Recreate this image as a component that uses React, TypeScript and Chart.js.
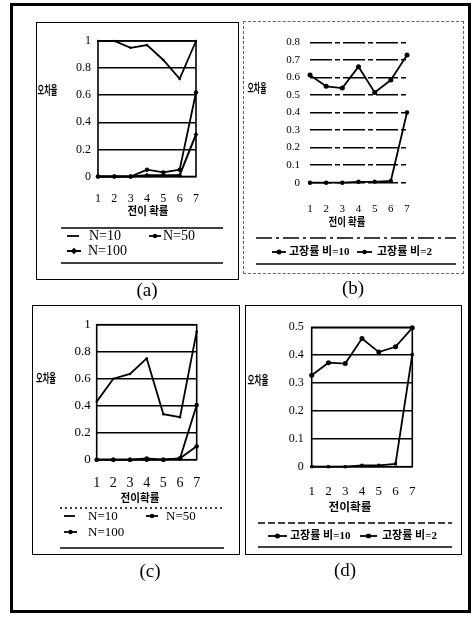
import React, { useEffect, useRef } from "react";
import { Chart, registerables } from "chart.js";
Chart.register(...registerables);

// ---------------- data ----------------
const transitionSteps = ["1", "2", "3", "4", "5", "6", "7"];
const yTicksUnit = [0, 0.2, 0.4, 0.6, 0.8, 1];
const yTicksB = [0, 0.1, 0.2, 0.3, 0.4, 0.5, 0.6, 0.7, 0.8];
const yTicksD = [0, 0.1, 0.2, 0.3, 0.4, 0.5];

const sizeLabels = ["N=10", "N=50", "N=100"];
const ratioLabels = ["고장률 비=10", "고장률 비=2"];
const yTitleText = "오차율";
const xTitleText = "전이 확률";
const xTitleTight = "전이확률";
const panelTags = ["(a)", "(b)", "(c)", "(d)"];

const aN10 = [1.0, 1.0, 0.95, 0.97, 0.86, 0.72, 1.0];
const aN50 = [0, 0, 0, 0.05, 0.03, 0.05, 0.62];
const aN100 = [0, 0, 0, 0.01, 0.01, 0.01, 0.31];

const bRatio10 = [0.613, 0.549, 0.539, 0.661, 0.514, 0.585, 0.728];
const bRatio2 = [0, 0, 0, 0.005, 0.005, 0.01, 0.4];

const cN10 = [0.43, 0.6, 0.635, 0.75, 0.337, 0.315, 0.95];
const cN50 = [0, 0, 0, 0, 0, 0.01, 0.405];
const cN100 = [0, 0, 0, 0.01, 0, 0.01, 0.1];

const dRatio10 = [0.328, 0.373, 0.37, 0.46, 0.411, 0.43, 0.498];
const dRatio2 = [0, 0, 0, 0.005, 0.005, 0.01, 0.403];

// ---------------- styles / layout ----------------
const SERIF = "'Liberation Serif', 'Times New Roman', 'Noto Sans CJK KR', serif";
const KR = "'Noto Sans CJK KR', sans-serif";

type Series = { label: string; data: number[]; width: number; radius: number; style: string };
type LegendItem = { mx: number; ml: number; tx: number; y: number };
type Spec = {
  box: { x: number; y: number; w: number; h: number };
  area: { l: number; r: number; t: number; b: number };
  yMax: number;
  yTicks: number[];
  yTickSize: number;
  yTickPad: number;
  xTickSize: number;
  xTickPad: number;
  yTitle: { cx: number; cy: number; w: number; size: number };
  xTitle: { text: string; cx: number; cy: number; w: number; size: number };
  legend: {
    top: number; bottom: number; x1: number; x2: number;
    topDash: number[]; bottomDash: number[];
    size: number; bold: boolean; items: LegendItem[];
  };
  frame: boolean;
  gridDash: number[];
  gridWidth: number;
  tag: { text: string; x: number; y: number };
  border: string;
  series: Series[];
};

const specA: Spec = {
  box: { x: 36, y: 22, w: 203, h: 258 },
  area: { l: 98, r: 196, t: 41, b: 176.5 },
  yMax: 1, yTicks: yTicksUnit, yTickSize: 12, yTickPad: 7,
  xTickSize: 12, xTickPad: 15,
  yTitle: { cx: 47.5, cy: 90, w: 20, size: 12 },
  xTitle: { text: xTitleText, cx: 148, cy: 211, w: 41, size: 11 },
  legend: {
    top: 228, bottom: 263, x1: 61, x2: 223, topDash: [], bottomDash: [],
    size: 14, bold: false,
    items: [
      { mx: 67, ml: 12, tx: 89, y: 236 },
      { mx: 149, ml: 12, tx: 163, y: 236 },
      { mx: 67, ml: 14, tx: 88, y: 251 },
    ],
  },
  frame: true, gridDash: [], gridWidth: 1.5,
  tag: { text: panelTags[0], x: 147, y: 290 },
  border: "1.5px solid #000",
  series: [
    { label: sizeLabels[0], data: aN10, width: 1.8, radius: 1.2, style: "circle" },
    { label: sizeLabels[1], data: aN50, width: 1.8, radius: 2.2, style: "circle" },
    { label: sizeLabels[2], data: aN100, width: 2, radius: 2.5, style: "rectRot" },
  ],
};

const specB: Spec = {
  box: { x: 243, y: 21, w: 221, h: 253 },
  area: { l: 310, r: 407, t: 42.3, b: 182.7 },
  yMax: 0.8, yTicks: yTicksB, yTickSize: 11, yTickPad: 10,
  xTickSize: 11, xTickPad: 19.5,
  yTitle: { cx: 257, cy: 88, w: 19, size: 12 },
  xTitle: { text: xTitleText, cx: 347, cy: 222, w: 37, size: 11 },
  legend: {
    top: 238, bottom: 264, x1: 256, x2: 456, topDash: [16, 4, 3, 4], bottomDash: [],
    size: 11, bold: true,
    items: [
      { mx: 272, ml: 14, tx: 289, y: 252 },
      { mx: 357, ml: 15, tx: 377, y: 252 },
    ],
  },
  frame: false, gridDash: [22, 3, 5, 3], gridWidth: 1.4,
  tag: { text: panelTags[1], x: 353, y: 288 },
  border: "1px dashed #666",
  series: [
    { label: ratioLabels[0], data: bRatio10, width: 1.8, radius: 2.5, style: "circle" },
    { label: ratioLabels[1], data: bRatio2, width: 1.8, radius: 2.2, style: "circle" },
  ],
};

const specC: Spec = {
  box: { x: 32, y: 305, w: 208, h: 250 },
  area: { l: 96.7, r: 196.7, t: 324.7, b: 459.7 },
  yMax: 1, yTicks: yTicksUnit, yTickSize: 13, yTickPad: 6,
  xTickSize: 14, xTickPad: 15.5,
  yTitle: { cx: 46, cy: 378, w: 20, size: 12 },
  xTitle: { text: xTitleTight, cx: 140, cy: 498, w: 39, size: 11 },
  legend: {
    top: 508, bottom: 548, x1: 60, x2: 224, topDash: [2, 3], bottomDash: [],
    size: 13, bold: false,
    items: [
      { mx: 64, ml: 11, tx: 88, y: 516 },
      { mx: 146, ml: 12, tx: 166, y: 516 },
      { mx: 64, ml: 13, tx: 88, y: 532 },
    ],
  },
  frame: true, gridDash: [], gridWidth: 1.5,
  tag: { text: panelTags[2], x: 150, y: 571 },
  border: "1.5px solid #000",
  series: [
    { label: sizeLabels[0], data: cN10, width: 1.8, radius: 1.2, style: "circle" },
    { label: sizeLabels[1], data: cN50, width: 1.8, radius: 2.2, style: "circle" },
    { label: sizeLabels[2], data: cN100, width: 1.8, radius: 2.2, style: "circle" },
  ],
};

const specD: Spec = {
  box: { x: 245, y: 305, w: 217, h: 250 },
  area: { l: 311.7, r: 412.3, t: 327.3, b: 466.7 },
  yMax: 0.5, yTicks: yTicksD, yTickSize: 12, yTickPad: 8,
  xTickSize: 13, xTickPad: 17.5,
  yTitle: { cx: 258, cy: 380, w: 21, size: 12 },
  xTitle: { text: xTitleTight, cx: 350, cy: 507, w: 43, size: 11 },
  legend: {
    top: 523, bottom: 547, x1: 258, x2: 452, topDash: [7, 3], bottomDash: [],
    size: 11, bold: true,
    items: [
      { mx: 268, ml: 19, tx: 290, y: 536 },
      { mx: 360, ml: 17, tx: 382, y: 536 },
    ],
  },
  frame: true, gridDash: [], gridWidth: 1.5,
  tag: { text: panelTags[3], x: 345, y: 570 },
  border: "1.5px solid #000",
  series: [
    { label: ratioLabels[0], data: dRatio10, width: 1.8, radius: 2.5, style: "circle" },
    { label: ratioLabels[1], data: dRatio2, width: 1.8, radius: 2.2, style: "rect" },
  ],
};

const specs = [specA, specB, specC, specD];

// ---------------- drawing helpers ----------------
function drawFitted(ctx: CanvasRenderingContext2D, text: string, cx: number, cy: number, font: string, targetW: number) {
  ctx.save();
  ctx.font = font;
  const w = ctx.measureText(text).width || 1;
  const sx = targetW ? targetW / w : 1;
  ctx.translate(cx, cy);
  ctx.scale(sx, 1);
  ctx.textAlign = "center";
  ctx.textBaseline = "middle";
  ctx.fillStyle = "#000";
  ctx.fillText(text, 0, 0);
  ctx.restore();
}

function drawMarker(ctx: CanvasRenderingContext2D, style: string, x: number, y: number, r: number) {
  if (r <= 0) return;
  ctx.beginPath();
  if (style === "rect") {
    ctx.rect(x - r, y - r, 2 * r, 2 * r);
  } else if (style === "rectRot") {
    ctx.moveTo(x, y - r * 1.3);
    ctx.lineTo(x + r * 1.3, y);
    ctx.lineTo(x, y + r * 1.3);
    ctx.lineTo(x - r * 1.3, y);
    ctx.closePath();
  } else {
    ctx.arc(x, y, r, 0, Math.PI * 2);
  }
  ctx.fill();
}

function hLine(ctx: CanvasRenderingContext2D, x1: number, x2: number, y: number, dash: number[], w: number) {
  ctx.save();
  ctx.strokeStyle = "#000";
  ctx.lineWidth = w;
  ctx.setLineDash(dash);
  ctx.beginPath();
  ctx.moveTo(x1, y);
  ctx.lineTo(x2, y);
  ctx.stroke();
  ctx.restore();
}

function decorPlugin(spec: Spec) {
  return {
    id: "decor",
    afterDraw(chart: any) {
      const ctx: CanvasRenderingContext2D = chart.ctx;
      const ox = spec.box.x;
      const oy = spec.box.y;
      const ca = chart.chartArea;
      ctx.save();
      if (spec.frame) {
        ctx.strokeStyle = "#000";
        ctx.lineWidth = 1.6;
        ctx.strokeRect(ca.left, ca.top, ca.right - ca.left, ca.bottom - ca.top);
      }
      // axis titles
      drawFitted(ctx, yTitleText, spec.yTitle.cx - ox, spec.yTitle.cy - oy, `bold ${spec.yTitle.size}px ${KR}`, spec.yTitle.w);
      drawFitted(ctx, spec.xTitle.text, spec.xTitle.cx - ox, spec.xTitle.cy - oy, `bold ${spec.xTitle.size}px ${KR}`, spec.xTitle.w);
      // legend
      const lg = spec.legend;
      hLine(ctx, lg.x1 - ox, lg.x2 - ox, lg.top - oy, lg.topDash, 1.4);
      hLine(ctx, lg.x1 - ox, lg.x2 - ox, lg.bottom - oy, lg.bottomDash, 1.4);
      chart.data.datasets.forEach((ds: any, i: number) => {
        const it = lg.items[i];
        if (!it) return;
        const y = it.y - oy;
        const x = it.mx - ox;
        ctx.strokeStyle = "#000";
        ctx.fillStyle = "#000";
        ctx.lineWidth = ds.borderWidth;
        ctx.setLineDash([]);
        ctx.beginPath();
        ctx.moveTo(x, y);
        ctx.lineTo(x + it.ml, y);
        ctx.stroke();
        if (ds.pointRadius > 1.5) drawMarker(ctx, ds.pointStyle, x + it.ml / 2, y, ds.pointRadius);
        ctx.font = `${lg.bold ? "bold " : ""}${lg.size}px ${SERIF}`;
        ctx.textAlign = "left";
        ctx.textBaseline = "middle";
        ctx.fillText(ds.label, it.tx - ox, y + 0.5);
      });
      ctx.restore();
    },
  };
}

function makeConfig(spec: Spec): any {
  const { box, area } = spec;
  const yWidth = area.l - box.x;
  const xH = spec.xTickPad + spec.xTickSize * 1.2 + 2;
  const padding = {
    left: 0,
    top: area.t - box.y,
    right: box.x + box.w - area.r,
    bottom: box.y + box.h - area.b - xH,
  };
  return {
    type: "line",
    data: {
      labels: transitionSteps,
      datasets: spec.series.map((s) => ({
        label: s.label,
        data: s.data,
        borderColor: "#000",
        backgroundColor: "#000",
        borderWidth: s.width,
        pointRadius: s.radius,
        pointStyle: s.style,
        pointBorderWidth: 0,
        pointBackgroundColor: "#000",
        tension: 0,
        fill: false,
        clip: false,
      })),
    },
    options: {
      responsive: false,
      animation: false,
      events: [],
      layout: { padding },
      plugins: {
        legend: { display: false },
        tooltip: { enabled: false },
        title: { display: false },
      },
      scales: {
        x: {
          type: "category",
          offset: false,
          grid: { display: false, drawTicks: false },
          border: { display: false },
          ticks: {
            autoSkip: false,
            maxRotation: 0,
            minRotation: 0,
            padding: spec.xTickPad,
            color: "#000",
            font: { family: SERIF, size: spec.xTickSize },
          },
          afterFit: (s: any) => {
            s.height = xH;
          },
        },
        y: {
          type: "linear",
          min: 0,
          max: spec.yMax,
          afterBuildTicks: (s: any) => {
            s.ticks = spec.yTicks.map((v) => ({ value: v }));
          },
          grid: { color: "#000", lineWidth: spec.gridWidth, drawTicks: false, borderDash: spec.gridDash },
          border: { display: false, dash: spec.gridDash },
          ticks: {
            padding: spec.yTickPad,
            color: "#000",
            font: { family: SERIF, size: spec.yTickSize },
            callback: (v: any) => String(Math.round(Number(v) * 10) / 10),
          },
          afterFit: (s: any) => {
            s.width = yWidth;
          },
        },
      },
    },
    plugins: [decorPlugin(spec)],
  };
}

function Panel({ spec }: { spec: Spec }) {
  const ref = useRef<HTMLCanvasElement>(null);
  useEffect(() => {
    if (!ref.current) return;
    const chart = new Chart(ref.current, makeConfig(spec));
    return () => chart.destroy();
  }, [spec]);
  const { box, tag } = spec;
  return (
    <>
      <canvas
        ref={ref}
        width={box.w}
        height={box.h}
        style={{ position: "absolute", left: box.x, top: box.y, width: box.w, height: box.h }}
      />
      <div
        style={{
          position: "absolute",
          left: box.x,
          top: box.y,
          width: box.w,
          height: box.h,
          border: spec.border,
          boxSizing: "border-box",
          pointerEvents: "none",
        }}
      />
      <div
        style={{
          position: "absolute",
          left: tag.x - 30,
          top: tag.y - 12,
          width: 60,
          height: 24,
          lineHeight: "24px",
          textAlign: "center",
          fontFamily: SERIF,
          fontSize: 19,
          color: "#000",
        }}
      >
        {tag.text}
      </div>
    </>
  );
}

export default function App() {
  return (
    <div
      style={{
        position: "absolute",
        left: 0,
        top: 0,
        width: 475,
        height: 621,
        background: "#fff",
        overflow: "hidden",
      }}
    >
      <div
        style={{
          position: "absolute",
          left: 10,
          top: 3,
          width: 461,
          height: 610,
          border: "3px solid #000",
          boxSizing: "border-box",
        }}
      />
      {specs.map((s, i) => (
        <Panel key={i} spec={s} />
      ))}
    </div>
  );
}
